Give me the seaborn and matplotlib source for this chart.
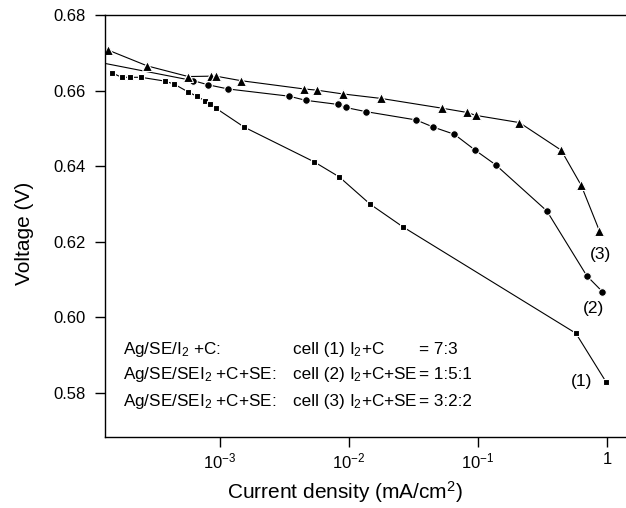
import matplotlib
matplotlib.use('Agg')

import numpy as np
import pandas as pd
import seaborn as sns
import matplotlib.pyplot as plt
from matplotlib.ticker import FixedLocator, FixedFormatter, NullLocator


# cell (1): I2+C = 7:3  (squares)
cell1_j = [1.45e-4, 1.73e-4, 2.02e-4, 2.44e-4, 3.73e-4, 4.41e-4, 5.68e-4, 6.59e-4,
           7.65e-4, 8.36e-4, 9.31e-4, 1.54e-3, 5.37e-3, 8.41e-3, 1.456e-2, 2.61e-2,
           0.572, 0.977]
cell1_v = [0.6647, 0.6635, 0.6635, 0.6635, 0.6625, 0.6617, 0.6596, 0.6585,
           0.6573, 0.6564, 0.6553, 0.6503, 0.6411, 0.6371, 0.6299, 0.6239,
           0.5957, 0.5829]

# cell (2): I2+C+SE = 1:5:1  (circles), first point lies left of the axis
cell2_j = [1.0e-4, 6.21e-4, 8.12e-4, 1.159e-3, 3.42e-3, 4.62e-3, 8.26e-3, 9.42e-3,
           1.354e-2, 3.31e-2, 4.50e-2, 6.55e-2, 9.49e-2, 0.137, 0.341, 0.696, 0.920]
cell2_v = [0.6679, 0.6626, 0.6615, 0.6604, 0.6585, 0.6574, 0.6563, 0.6555,
           0.6544, 0.6522, 0.6503, 0.6484, 0.6442, 0.6403, 0.6281, 0.6109, 0.6067]

# cell (3): I2+C+SE = 3:2:2  (triangles)
cell3_j = [1.36e-4, 2.74e-4, 5.67e-4, 8.59e-4, 9.31e-4, 1.455e-3, 4.50e-3, 5.62e-3,
           8.91e-3, 1.77e-2, 5.29e-2, 8.17e-2, 9.64e-2, 0.209, 0.440, 0.629, 0.872]
cell3_v = [0.6707, 0.6665, 0.6637, 0.6638, 0.6638, 0.6626, 0.6604, 0.6601,
           0.6591, 0.6579, 0.6553, 0.6542, 0.6534, 0.6515, 0.6442, 0.6349, 0.6228]

x_ticks = [1e-3, 1e-2, 1e-1, 1]
x_tick_labels = [r'$\mathregular{10^{-3}}$', r'$\mathregular{10^{-2}}$',
                 r'$\mathregular{10^{-1}}$', '1']
y_ticks = [0.58, 0.60, 0.62, 0.64, 0.66, 0.68]
y_tick_labels = ['0.58', '0.60', '0.62', '0.64', '0.66', '0.68']

legend_rows = [
    ('Ag/SE/I$_2$ +C:', 'cell (1)', 'I$_2$+C', '= 7:3'),
    ('Ag/SE/SEI$_2$ +C+SE:', 'cell (2)', 'I$_2$+C+SE', '= 1:5:1'),
    ('Ag/SE/SEI$_2$ +C+SE:', 'cell (3)', 'I$_2$+C+SE', '= 3:2:2'),
]
curve_tags = ['(1)', '(2)', '(3)']


sns.set_style("ticks")
plt.rcParams['font.family'] = ['Liberation Sans', 'DejaVu Sans']
plt.rcParams['mathtext.fontset'] = 'custom'
plt.rcParams['mathtext.rm'] = 'Liberation Sans'
plt.rcParams['mathtext.it'] = 'Liberation Sans'
plt.rcParams['text.color'] = 'black'
plt.rcParams['axes.labelcolor'] = 'black'

fig = plt.figure(figsize=(6.26, 5.08), dpi=100)
ax = fig.add_axes([105 / 626, 1 - 436.7 / 508, 1 - 105 / 626, (436.7 - 15) / 508])

series = [
    (cell1_j, cell1_v, 's', 5.0),
    (cell2_j, cell2_v, 'o', 5.5),
    (cell3_j, cell3_v, '^', 6.5),
]
for xs, ys, mk, ms in series:
    df = pd.DataFrame({'j': xs, 'v': ys})
    sns.lineplot(data=df, x='j', y='v', ax=ax, sort=False, estimator=None,
                 color='black', linewidth=0.8, marker=mk, markersize=ms,
                 markerfacecolor='black', markeredgecolor='white',
                 markeredgewidth=0.8)

ax.set_xscale('log')
ax.set_xlim(1.285e-4, 1.40)
ax.set_ylim(0.5683, 0.68)

ax.xaxis.set_major_locator(FixedLocator(x_ticks))
ax.xaxis.set_major_formatter(FixedFormatter(x_tick_labels))
ax.xaxis.set_minor_locator(NullLocator())
ax.set_yticks(y_ticks)
ax.set_yticklabels(y_tick_labels)

ax.tick_params(axis='both', direction='out', length=7, width=1.0,
               labelsize=12, color='black', labelcolor='black')
ax.tick_params(axis='y', pad=7)
ax.tick_params(axis='x', pad=4)

for side in ['left', 'bottom', 'top']:
    ax.spines[side].set_color('black')
    ax.spines[side].set_linewidth(1.0)
ax.spines['right'].set_visible(False)

ax.set_xlabel('Current density (mA/cm$^2$)', fontsize=15)
ax.set_ylabel('Voltage (V)', fontsize=15)
ax.xaxis.set_label_coords(0.4607, -0.100)
ax.yaxis.set_label_coords(-0.136, 0.483)

# composition text block
col_x = [0.0345, 0.361, 0.469, 0.603]
row_y = [0.196, 0.136, 0.073]
for row, yy in zip(legend_rows, row_y):
    for txt, xx in zip(row, col_x):
        ax.text(xx, yy, txt, transform=ax.transAxes, fontsize=12.3,
                ha='left', va='baseline')

tag_pos = [(0.915, 0.1304), (0.937, 0.3045), (0.951, 0.431)]
for tag, (xx, yy) in zip(curve_tags, tag_pos):
    ax.text(xx, yy, tag, transform=ax.transAxes, fontsize=12.5,
            ha='center', va='center')

plt.savefig('out.png', dpi=100)
